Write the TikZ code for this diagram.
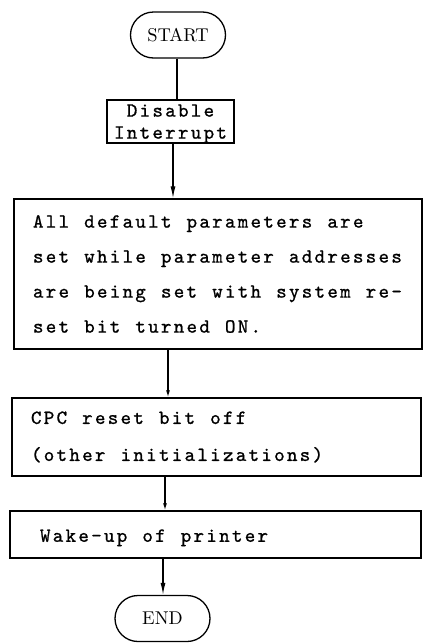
\documentclass[tikz,border=0pt]{standalone}
\usepackage{fontspec}
\usetikzlibrary{arrows.meta,shapes.misc}
% typewriter face for the process boxes; a fixed kern between characters
% and a wider word space give the 10-pitch spacing
\newfontfamily\typewriterface{lmmono10-regular.otf}[FakeBold=1]
\newfontfamily\terminalface{lmroman10-regular.otf}
\newcommand\typetrack{\XeTeXinterchartokenstate=1
  \XeTeXinterchartoks 0 0 = {\kern2.3pt}%
  \spaceskip=15.1pt \xspaceskip=15.1pt }

\begin{document}
\begin{tikzpicture}[x=1pt,y=-1pt,
  terminal/.style={rounded rectangle, draw, line width=1.3pt,
    minimum width=95pt, minimum height=46pt, inner sep=0pt,
    font=\terminalface\fontsize{18.5}{20}\selectfont},
  procbox/.style={rectangle, draw, line width=1.5pt, inner ysep=0pt,
    align=flush left, font=\typewriterface\fontsize{20}{35}\selectfont\typetrack},
  flow/.style={line width=1.2pt},
  flowarrow/.style={flow, -{Latex[length=12pt,width=5pt]}},
  smallarrow/.style={flow, -{Latex[length=7pt,width=4pt]}},
]
\useasboundingbox (0,0) rectangle (423,643);

% connector columns
\coordinate (colA) at (177,0);
\coordinate (colB) at (173,0);
\coordinate (colC) at (168,0);
\coordinate (colD) at (165,0);
\coordinate (colE) at (163,0);

\node[terminal] (start) at (178,35) {START};

\node[procbox, align=center, minimum width=127pt, minimum height=43pt,
  inner xsep=0pt, font=\typewriterface\fontsize{20}{22}\selectfont\typetrack]
  (disable) at (170.5,121.5) {Disable\\\smash{Interrupt}};

\node[procbox, minimum width=408pt, minimum height=150pt,
  text width=370pt, inner xsep=19pt] (params) at (218,274)
  {All default parameters are\\
   set while parameter addresses\\
   are being set with system re-\\
   set bit turned ON.};

\node[procbox, minimum width=409pt, minimum height=78pt,
  text width=371pt, inner xsep=19pt,
  font=\typewriterface\fontsize{20}{37}\selectfont\typetrack] (cpc) at (216.5,437)
  {CPC reset bit off\\(other initializations)};

\node[procbox, minimum width=411pt, minimum height=47pt,
  text width=351pt, inner xsep=30pt] (wake) at (215.5,534.5)
  {\rule{0pt}{19pt}Wake-up of printer};

\node[terminal] (stop) at (162.5,618.5) {END};

\draw[flow] (start.south -| colA) -- (disable.north -| colA);
\draw[flowarrow] (disable.south -| colB) -- (params.north -| colB);
\draw[smallarrow] (params.south -| colC) -- (cpc.north -| colC);
\draw[smallarrow] (cpc.south -| colD) -- (wake.north -| colD);
\draw[flowarrow] (wake.south -| colE) -- (stop.north -| colE);
\end{tikzpicture}
\end{document}
